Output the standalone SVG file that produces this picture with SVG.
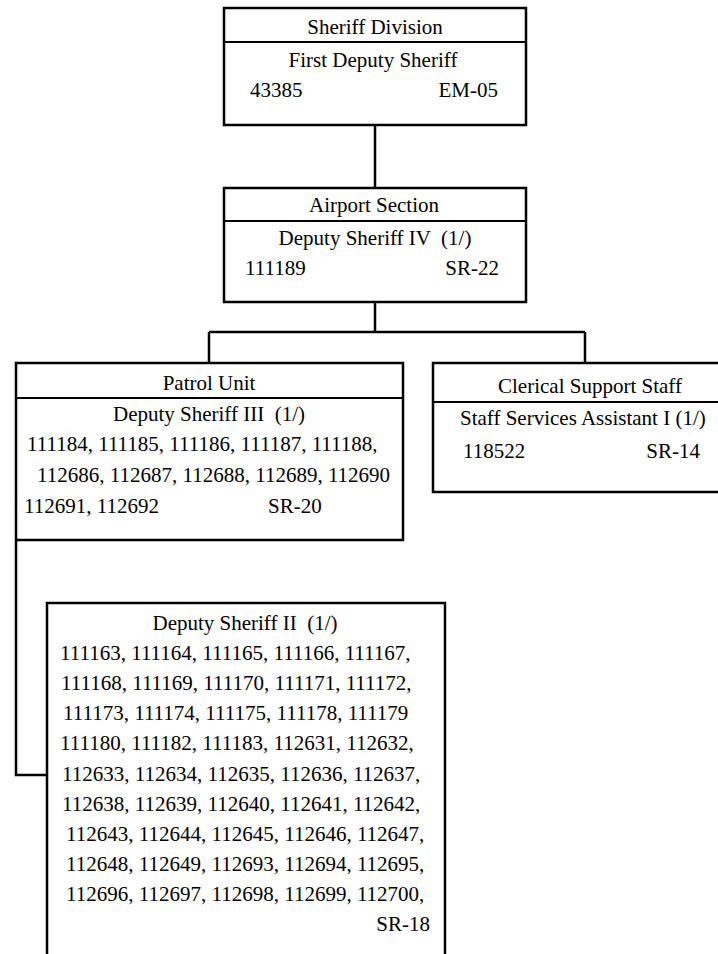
<svg xmlns="http://www.w3.org/2000/svg" width="718" height="954" viewBox="0 0 718 954">
<style>
text{font-family:"Liberation Serif","Times New Roman",serif;font-size:21px;fill:#000;white-space:pre}
.c{text-anchor:middle}
.e{text-anchor:end}
.box{fill:#fff;stroke:#000;stroke-width:2.5}
.div{stroke:#000;stroke-width:2}
.conn{fill:none;stroke:#000;stroke-width:2.5}
</style>
<rect width="718" height="954" fill="#fff"/>
<g id="connectors">
<path class="conn" d="M375 125V188"/>
<path class="conn" d="M375 302V332M209 332H585M209 332V363M585 332V363"/>
<path class="conn" d="M16 540V775H47"/>
</g>
<g id="sheriff-division">
<rect class="box" x="224" y="8" width="302" height="117"/>
<line class="div" x1="224" y1="42" x2="526" y2="42"/>
<text class="c" x="375" y="34">Sheriff Division</text>
<text class="c" x="373" y="67">First Deputy Sheriff</text>
<text x="250" y="97">43385</text>
<text class="e" x="498" y="97">EM-05</text>
</g>
<g id="airport-section">
<rect class="box" x="224" y="188" width="302" height="114"/>
<line class="div" x1="224" y1="221" x2="526" y2="221"/>
<text class="c" x="374" y="212">Airport Section</text>
<text class="c" x="375" y="245">Deputy Sheriff IV  (1/)</text>
<text x="245" y="275">111189</text>
<text class="e" x="499" y="275">SR-22</text>
</g>
<g id="patrol-unit">
<rect class="box" x="16" y="363" width="387" height="177"/>
<line class="div" x1="16" y1="398" x2="403" y2="398"/>
<text class="c" x="209" y="390">Patrol Unit</text>
<text class="c" x="209" y="421">Deputy Sheriff III  (1/)</text>
<text x="27" y="451">111184, 111185, 111186, 111187, 111188,</text>
<text x="37" y="482">112686, 112687, 112688, 112689, 112690</text>
<text x="24" y="513">112691, 112692</text>
<text x="268" y="513">SR-20</text>
</g>
<g id="clerical-support">
<path class="box" d="M740 363H433V492H740"/>
<line class="div" x1="433" y1="402" x2="740" y2="402"/>
<text class="c" x="590" y="393">Clerical Support Staff</text>
<text x="460" y="425">Staff Services Assistant I (1/)</text>
<text x="463" y="458">118522</text>
<text class="e" x="700" y="458">SR-14</text>
</g>
<g id="deputy-sheriff-ii">
<path class="box" d="M47 956V603H445V956"/>
<text class="c" x="245" y="630">Deputy Sheriff II  (1/)</text>
<text x="60" y="660">111163, 111164, 111165, 111166, 111167,</text>
<text x="61" y="690">111168, 111169, 111170, 111171, 111172,</text>
<text x="63" y="720">111173, 111174, 111175, 111178, 111179</text>
<text x="60" y="750">111180, 111182, 111183, 112631, 112632,</text>
<text x="62" y="781">112633, 112634, 112635, 112636, 112637,</text>
<text x="62" y="811">112638, 112639, 112640, 112641, 112642,</text>
<text x="66" y="841">112643, 112644, 112645, 112646, 112647,</text>
<text x="66" y="871">112648, 112649, 112693, 112694, 112695,</text>
<text x="66" y="901">112696, 112697, 112698, 112699, 112700,</text>
<text class="e" x="430" y="931">SR-18</text>
</g>
</svg>
